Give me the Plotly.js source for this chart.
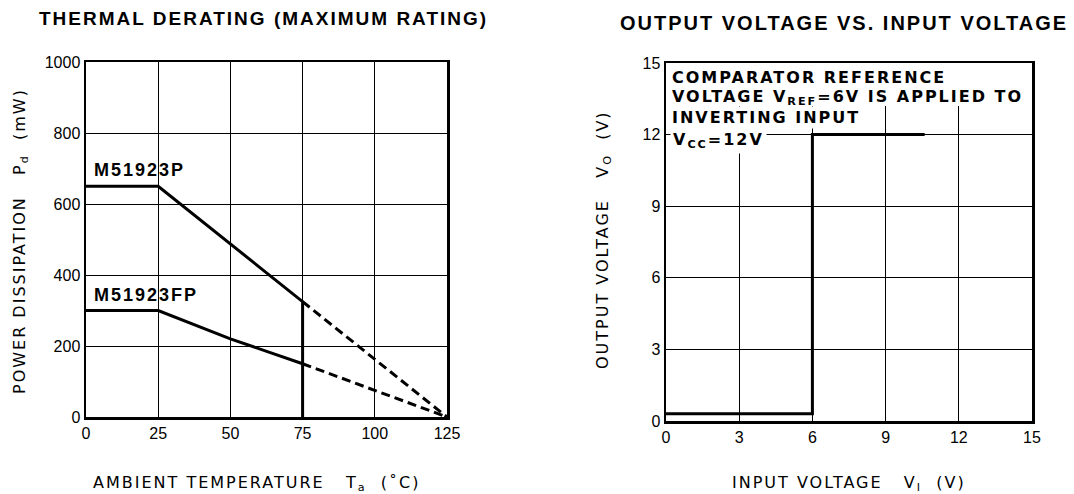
<!DOCTYPE html>
<html>
<head>
<meta charset="utf-8">
<script src="https://cdn.plot.ly/plotly-3.0.1.min.js"></script>
<style>
html,body{margin:0;padding:0;background:#fff;}
#chart{width:1074px;height:494px;}
text.annotation-text { letter-spacing: 2px; }
</style>
</head>
<body>
<div id="chart"></div>
<script>
// ---- Thermal derating data ----
const tempP = [0, 25, 75, 75];
const pdP = [650, 650, 325, 0];
const tempPExt = [75, 125];
const pdPExt = [325, 0];
const tempFP = [0, 25, 50, 75];
const pdFP = [300, 300, 220, 150];
const tempFPExt = [75, 125];
const pdFPExt = [150, 0];
const tempTicks = [0, 25, 50, 75, 100, 125];
const pdTicks = [0, 200, 400, 600, 800, 1000];

// ---- Output vs input voltage data ----
const vIn = [0, 6, 6, 10.6];
const vOut = [0.3, 0.3, 12, 12];
const vInTicks = [0, 3, 6, 9, 12, 15];
const vOutTicks = [0, 3, 6, 9, 12, 15];

const FONT = 'Liberation Sans, Arial, sans-serif';
const WIDE = 'DejaVu Sans, Liberation Sans, sans-serif';
const solid = {color: '#000', width: 3};
const dashed = {color: '#000', width: 3, dash: '9px,5px'};

const traces = [
  {x: tempP, y: pdP, mode: 'lines', line: solid, xaxis: 'x', yaxis: 'y', hoverinfo: 'skip'},
  {x: tempPExt, y: pdPExt, mode: 'lines', line: dashed, xaxis: 'x', yaxis: 'y', hoverinfo: 'skip'},
  {x: tempFP, y: pdFP, mode: 'lines', line: solid, xaxis: 'x', yaxis: 'y', hoverinfo: 'skip'},
  {x: tempFPExt, y: pdFPExt, mode: 'lines', line: dashed, xaxis: 'x', yaxis: 'y', hoverinfo: 'skip'},
  {x: vIn, y: vOut, mode: 'lines', line: solid, xaxis: 'x2', yaxis: 'y2', hoverinfo: 'skip'}
];

function ax(domain, range, ticks, anchor) {
  return {
    domain: domain, range: range, tickvals: ticks, ticktext: ticks.map(String),
    anchor: anchor, showline: true, mirror: true, linewidth: 2.5, linecolor: '#000',
    showgrid: true, gridcolor: '#000', gridwidth: 1, zeroline: false,
    ticks: '', tickfont: {family: FONT, size: 16, color: '#000'}, fixedrange: true
  };
}

const layout = {
  width: 1074, height: 494,
  margin: {l: 0, r: 0, t: 0, b: 0},
  paper_bgcolor: '#fff', plot_bgcolor: '#fff',
  showlegend: false,
  xaxis: ax([86/1074, 447/1074], [0, 125], tempTicks, 'y'),
  yaxis: ax([1 - 417/494, 1 - 62/494], [0, 1000], pdTicks, 'x'),
  xaxis2: ax([666/1074, 1032/1074], [0, 15], vInTicks, 'y2'),
  yaxis2: ax([1 - 421/494, 1 - 63/494], [0, 15], vOutTicks, 'x2'),
  shapes: [
    {type: 'rect', xref: 'x2', yref: 'y2', x0: 0, x1: 15, y0: 13.2, y1: 15,
     fillcolor: '#fff', line: {width: 0}, layer: 'between'}
  ],
  annotations: [
    {text: '<b>THERMAL DERATING (MAXIMUM RATING)</b>', xref: 'paper', yref: 'paper',
     x: 263/1074, y: 1 - 19/494, xanchor: 'center', yanchor: 'middle', showarrow: false,
     font: {family: FONT, size: 19, color: '#000'}},
    {text: '<b>OUTPUT VOLTAGE VS. INPUT VOLTAGE</b>', xref: 'paper', yref: 'paper',
     x: 844/1074, y: 1 - 23/494, xanchor: 'center', yanchor: 'middle', showarrow: false,
     font: {family: FONT, size: 20, color: '#000'}},
    {text: 'AMBIENT TEMPERATURE   T<sub>a</sub>  (˚C)', xref: 'paper', yref: 'paper',
     x: 256/1074, y: 1 - 483/494, xanchor: 'center', yanchor: 'middle', showarrow: false,
     font: {family: WIDE, size: 16, color: '#000'}},
    {text: 'INPUT VOLTAGE   V<sub>I</sub>  (V)', xref: 'paper', yref: 'paper',
     x: 849/1074, y: 1 - 483/494, xanchor: 'center', yanchor: 'middle', showarrow: false,
     font: {family: WIDE, size: 16, color: '#000'}},
    {text: 'POWER DISSIPATION   P<sub>d</sub>  (mW)', xref: 'paper', yref: 'paper',
     x: 20/1074, y: 1 - 241/494, xanchor: 'center', yanchor: 'middle', showarrow: false, textangle: -90,
     font: {family: WIDE, size: 16, color: '#000'}},
    {text: 'OUTPUT VOLTAGE   V<sub>O</sub>  (V)', xref: 'paper', yref: 'paper',
     x: 604/1074, y: 1 - 240/494, xanchor: 'center', yanchor: 'middle', showarrow: false, textangle: -90,
     font: {family: WIDE, size: 16, color: '#000'}},
    {text: '<b>M51923P</b>', xref: 'x', yref: 'y', x: 2, y: 697, xanchor: 'left', yanchor: 'middle',
     showarrow: false, font: {family: FONT, size: 18, color: '#000'}},
    {text: '<b>M51923FP</b>', xref: 'x', yref: 'y', x: 2, y: 345, xanchor: 'left', yanchor: 'middle',
     showarrow: false, font: {family: FONT, size: 18, color: '#000'}},
    {text: '<b>COMPARATOR REFERENCE</b>', xref: 'x2', yref: 'y2', x: 0.15, y: 14.4, xanchor: 'left', yanchor: 'middle',
     showarrow: false, font: {family: WIDE, size: 16, color: '#000'}},
    {text: '<b>VOLTAGE V<sub>REF</sub>=6V IS APPLIED TO</b>', xref: 'x2', yref: 'y2', x: 0.15, y: 13.55, xanchor: 'left', yanchor: 'middle',
     showarrow: false, font: {family: WIDE, size: 16, color: '#000'}},
    {text: '<b>INVERTING INPUT</b>', xref: 'x2', yref: 'y2', x: 0.15, y: 12.7, xanchor: 'left', yanchor: 'middle',
     showarrow: false, bgcolor: '#fff', font: {family: WIDE, size: 16, color: '#000'}},
    {text: '<b>V<sub>CC</sub>=12V</b>', xref: 'x2', yref: 'y2', x: 0.15, y: 11.75, xanchor: 'left', yanchor: 'middle',
     showarrow: false, bgcolor: '#fff', borderpad: 2, font: {family: WIDE, size: 16, color: '#000'}}
  ]
};

Plotly.newPlot('chart', traces, layout, {staticPlot: true, displayModeBar: false});
</script>
</body>
</html>
